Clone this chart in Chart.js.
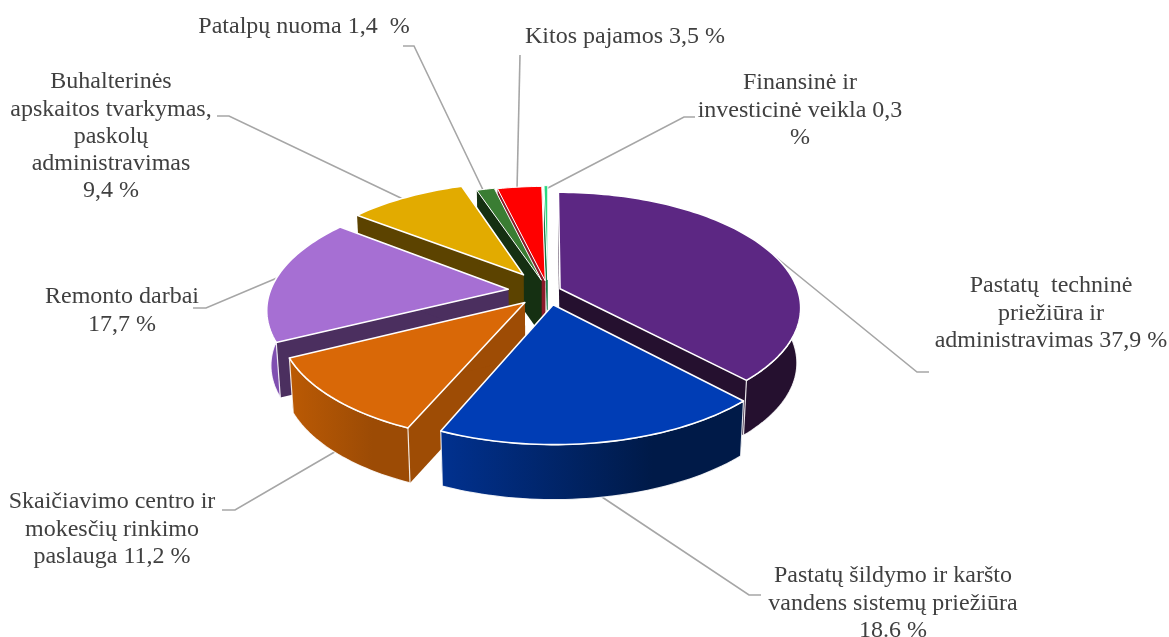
<!DOCTYPE html>
<html lang="lt">
<head>
<meta charset="utf-8">
<title>Pajamų struktūra</title>
<script src="https://cdn.jsdelivr.net/npm/chart.js@4/dist/chart.umd.min.js"></script>
<style>
  html, body { margin: 0; padding: 0; background: #fff; }
  canvas { display: block; }
</style>
</head>
<body>
<canvas id="chart" width="1169" height="637"></canvas>
<script>
// chart data
const categories = [
  'Pastatų techninė priežiūra ir administravimas',
  'Pastatų šildymo ir karšto vandens sistemų priežiūra',
  'Skaičiavimo centro ir mokesčių rinkimo paslauga',
  'Remonto darbai',
  'Buhalterinės apskaitos tvarkymas, paskolų administravimas',
  'Patalpų nuoma',
  'Kitos pajamos',
  'Finansinė ir investicinė veikla'
];
const shares = [37.9, 18.6, 11.2, 17.7, 9.4, 1.4, 3.5, 0.3];
const labelLines = [
  ['Pastatų  techninė', 'priežiūra ir', 'administravimas 37,9 %'],
  ['Pastatų šildymo ir karšto', 'vandens sistemų priežiūra', '18.6 %'],
  ['Skaičiavimo centro ir', 'mokesčių rinkimo', 'paslauga 11,2 %'],
  ['Remonto darbai', '17,7 %'],
  ['Buhalterinės', 'apskaitos tvarkymas,', 'paskolų', 'administravimas', '9,4 %'],
  ['Patalpų nuoma 1,4  %'],
  ['Kitos pajamos 3,5 %'],
  ['Finansinė ir', 'investicinė veikla 0,3', '%']
];

// styles
const topColors = ['#5c2783', '#003db5', '#d96807', '#a66fd3', '#e2ab00', '#3a7d33', '#ff0000', '#2bd880'];
const sideColors = ['#25102f', '#001a48', '#9e4c05', '#4b2f5f', '#5c4300', '#153012', '#8b1a2a', '#157a48'];
const wallFrom = ['#25102f', '#01318f', '#bb5a04', '#8f5cc0', '#6b4f00', '#153012', '#a00000', '#157a48'];
const wallTo = ['#25102f', '#001a48', '#9c4b05', '#7f4fb0', '#5c4300', '#153012', '#8b0000', '#157a48'];
const sliceOffsets = [13, 29, 33, 40, 43, 24, 22, 24];

// label layout: centre x and y of the first line
const labelPos = [
  [1051, 286], [893, 576], [112, 502], [122, 297],
  [111, 82], [304, 27], [625, 37], [800, 83]
];
const leaders = [
  [[767, 250], [917, 372], [929, 372]],
  [[602, 497], [749, 595], [761, 595]],
  [[338, 450], [235, 510], [222, 510]],
  [[277, 278], [206, 308], [193, 308]],
  [[405, 200], [229, 116], [217, 116]],
  [[484, 192], [414, 46], [403, 46]],
  [[517, 190], [520, 55]],
  [[544, 190], [684, 117], [695, 117]]
];

const TILT = 0.473;       // vertical squash of the disc
const PERSP = 0.16;       // near edge looks larger than far edge
const DEPTH = 55;         // height of the extrusion
const BOTTOM_SHRINK = 0.985;
const FONT = '24px "Liberation Serif", "Times New Roman", serif';
const LINE_H = 27.3;

// slice angle/radius (from the arc element) -> screen point on top or bottom face
function project(el, angle, r, bottom) {
  const off = el.options.offset || 0;
  const mid = (el.startAngle + el.endAngle) / 2;
  const R = el.outerRadius;
  const px = Math.cos(mid) * off + Math.cos(angle) * r;
  const py = Math.sin(mid) * off + Math.sin(angle) * r;
  const w = 1 - PERSP * py / R;
  let sx = px / w;
  let sy = TILT * py / w;
  if (bottom) {
    sx *= BOTTOM_SHRINK;
    sy += DEPTH;
  }
  return [el.x + sx, el.y + sy];
}

function rimAngles(el) {
  const out = [];
  const steps = Math.max(4, Math.ceil((el.endAngle - el.startAngle) * 40));
  for (let i = 0; i <= steps; i++) {
    out.push(el.startAngle + (el.endAngle - el.startAngle) * i / steps);
  }
  return out;
}

function poly(ctx, pts, fill, stroke, lw) {
  ctx.beginPath();
  pts.forEach((p, i) => (i ? ctx.lineTo(p[0], p[1]) : ctx.moveTo(p[0], p[1])));
  ctx.closePath();
  ctx.fillStyle = fill;
  ctx.fill();
  if (stroke) {
    ctx.strokeStyle = stroke;
    ctx.lineWidth = lw;
    ctx.lineJoin = 'round';
    ctx.stroke();
  }
}

function drawSlice(ctx, el, i) {
  const angles = rimAngles(el);
  const R = el.outerRadius;
  const top = angles.map(a => project(el, a, R, false));
  const apexT = project(el, 0, 0, false);
  const apexB = project(el, 0, 0, true);
  const first = angles[0];
  const last = angles[angles.length - 1];

  // cut faces
  poly(ctx, [apexT, top[0], project(el, first, R, true), apexB], sideColors[i]);
  poly(ctx, [apexT, top[top.length - 1], project(el, last, R, true), apexB], sideColors[i]);

  // outer wall, only the part facing the viewer
  const front = angles.filter(a => Math.sin(a) > -0.05);
  if (front.length > 1) {
    const frontTop = front.map(a => project(el, a, R, false));
    const frontBot = front.map(a => project(el, a, R, true));
    const xs = frontTop.map(p => p[0]);
    const grad = ctx.createLinearGradient(Math.min(...xs), 0, Math.max(...xs), 0);
    grad.addColorStop(0, wallFrom[i]);
    grad.addColorStop(0.7, wallTo[i]);
    grad.addColorStop(1, wallTo[i]);
    poly(ctx, frontTop.concat(frontBot.reverse()), grad, 'rgba(255,255,255,0.85)', 1.2);
  }

  // top face
  poly(ctx, [apexT].concat(top), topColors[i], '#ffffff', i > 4 ? 1 : 1.6);
}

const pie3d = {
  id: 'pie3d',
  beforeDatasetDraw(chart, args) {
    const ctx = chart.ctx;
    const arcs = chart.getDatasetMeta(args.index).data;

    ctx.save();
    ctx.strokeStyle = '#a6a6a6';
    ctx.lineWidth = 1.6;
    leaders.forEach(line => {
      ctx.beginPath();
      line.forEach((p, i) => (i ? ctx.lineTo(p[0], p[1]) : ctx.moveTo(p[0], p[1])));
      ctx.stroke();
    });

    // back slices first, front ones paint over them
    const order = arcs.map((el, i) => i).sort((a, b) => {
      const depth = el => Math.sin((el.startAngle + el.endAngle) / 2);
      return depth(arcs[a]) - depth(arcs[b]);
    });
    order.forEach(i => drawSlice(ctx, arcs[i], i));
    ctx.restore();
    return false;
  },
  afterDraw(chart) {
    const ctx = chart.ctx;
    ctx.save();
    ctx.font = FONT;
    ctx.fillStyle = '#404040';
    ctx.textAlign = 'center';
    ctx.textBaseline = 'middle';
    labelLines.forEach((lines, i) => {
      lines.forEach((txt, j) => {
        ctx.fillText(txt, labelPos[i][0], labelPos[i][1] + j * LINE_H);
      });
    });
    ctx.restore();
  }
};

new Chart(document.getElementById('chart').getContext('2d'), {
  type: 'pie',
  data: {
    labels: categories,
    datasets: [{
      data: shares,
      backgroundColor: topColors,
      borderColor: '#ffffff',
      offset: sliceOffsets
    }]
  },
  options: {
    responsive: false,
    animation: false,
    events: [],
    radius: 238,
    layout: { padding: { right: 73, bottom: 55 } },
    plugins: {
      legend: { display: false },
      tooltip: { enabled: false }
    }
  },
  plugins: [pie3d]
});
</script>
</body>
</html>
